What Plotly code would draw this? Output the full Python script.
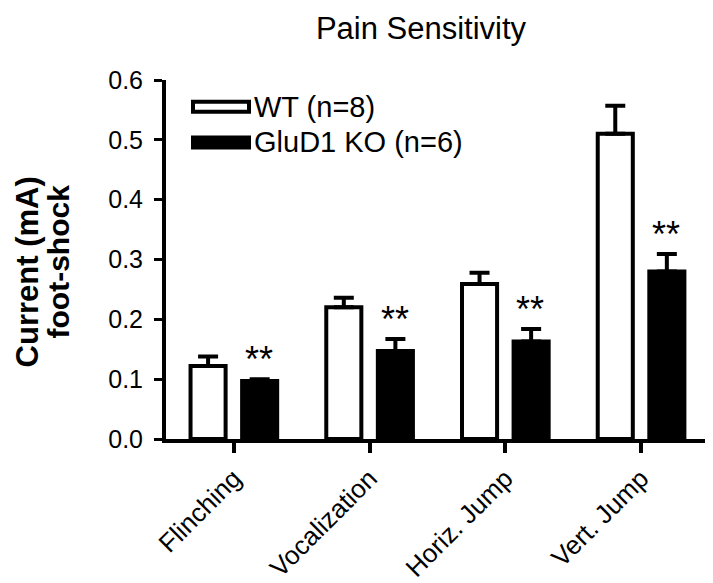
import plotly.graph_objects as go

categories = ["Flinching", "Vocalization", "Horiz. Jump", "Vert. Jump"]
wt_values = [0.122, 0.220, 0.259, 0.510]
wt_errors = [0.016, 0.016, 0.019, 0.047]
ko_values = [0.097, 0.147, 0.163, 0.280]
ko_errors = [0.003, 0.020, 0.021, 0.029]
stars = ["**", "**", "**", "**"]
y_ticks = [0.0, 0.1, 0.2, 0.3, 0.4, 0.5, 0.6]

FONT = "Arial, Liberation Sans, Helvetica, sans-serif"
W, H = 713, 583
L, R, T, B = 158, 8, 72, 149
PW, PH = W - L - R, H - T - B

def px_x(p):
    return (p - L) / PW

def px_y(p):
    return (H - B - p) / PH

fig = go.Figure()
fig.add_trace(go.Bar(
    x=categories, y=wt_values, name="WT (n=8)",
    marker=dict(color="white", line=dict(color="black", width=4)),
    error_y=dict(type="data", array=wt_errors, arrayminus=[0]*len(wt_errors),
                 symmetric=False, color="black", thickness=4, width=10),
    showlegend=False,
))
fig.add_trace(go.Bar(
    x=categories, y=ko_values, name="GluD1 KO (n=6)",
    marker=dict(color="black", line=dict(color="black", width=4)),
    error_y=dict(type="data", array=ko_errors, arrayminus=[0]*len(ko_errors),
                 symmetric=False, color="black", thickness=4, width=10),
    showlegend=False,
))

annotations = []
for c, v, e, s in zip(categories, ko_values, ko_errors, stars):
    annotations.append(dict(x=c, y=v + e, text=s, showarrow=False, xref="x", yref="y",
                            xanchor="center", yanchor="bottom", xshift=25, yshift=-3,
                            font=dict(family=FONT, size=36, color="black")))

# custom legend
legend_items = [("WT (n=8)", "white", 99), ("GluD1 KO (n=6)", "black", 135)]
shapes = []
for label, fill, yc in legend_items:
    shapes.append(dict(type="rect", xref="paper", yref="paper",
                       x0=px_x(185), x1=px_x(241), y0=px_y(yc + 5), y1=px_y(yc - 5),
                       fillcolor=fill, line=dict(color="black", width=4)))
    annotations.append(dict(x=px_x(244), y=px_y(yc), xref="paper", yref="paper",
                            text=label, showarrow=False, xanchor="left", yanchor="middle",
                            font=dict(family=FONT, size=29, color="black")))

# y-axis title (two lines)
annotations.append(dict(x=px_x(19), y=px_y(266), xref="paper", yref="paper",
                        text="<b>Current (mA)</b>", showarrow=False, textangle=-90,
                        xanchor="center", yanchor="middle",
                        font=dict(family=FONT, size=31, color="black")))
annotations.append(dict(x=px_x(50), y=px_y(255), xref="paper", yref="paper",
                        text="<b>foot-shock</b>", showarrow=False, textangle=-90,
                        xanchor="center", yanchor="middle",
                        font=dict(family=FONT, size=30, color="black")))

fig.update_layout(
    width=W, height=H,
    margin=dict(l=L, r=R, t=T, b=B),
    paper_bgcolor="white", plot_bgcolor="white",
    barmode="group", bargap=0.24, bargroupgap=0.32,
    title=dict(text="Pain Sensitivity", x=413 / W, xref="container", xanchor="center",
               y=1 - 20 / H, yref="container", yanchor="middle",
               font=dict(family=FONT, size=31, color="black")),
    xaxis=dict(range=[-0.5, 3.53], showline=True, linecolor="black", linewidth=4,
               ticks="outside", ticklen=10, tickwidth=4, tickcolor="black",
               tickangle=-45, tickfont=dict(family=FONT, size=26, color="black"),
               showgrid=False, zeroline=False),
    yaxis=dict(range=[0, 0.6], tickvals=y_ticks, tickformat=".1f",
               showline=True, linecolor="black", linewidth=4,
               ticks="outside", ticklen=8, tickwidth=3, tickcolor="black",
               ticklabelstandoff=6,
               tickfont=dict(family=FONT, size=25, color="black"),
               showgrid=False, zeroline=False),
    shapes=shapes,
    annotations=annotations,
)

fig.write_html("out.html")
